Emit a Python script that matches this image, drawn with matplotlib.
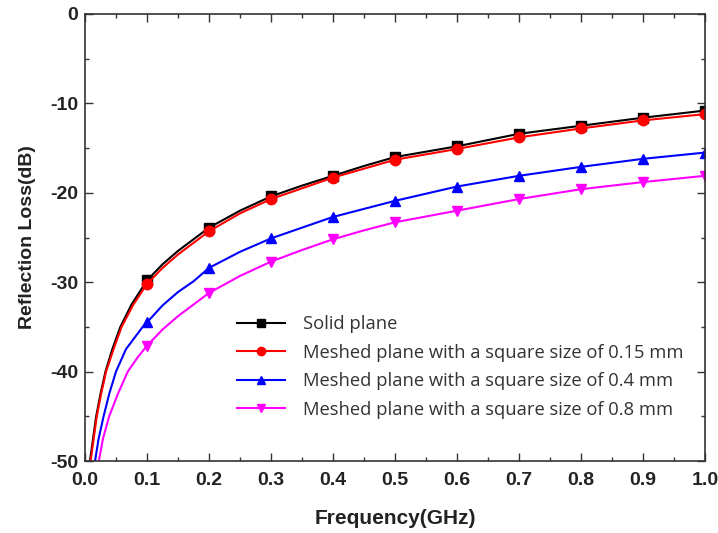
import matplotlib
matplotlib.use("Agg")
import matplotlib.pyplot as plt
from matplotlib.ticker import MultipleLocator, FormatStrFormatter
import numpy as np

plt.rcParams['axes.unicode_minus'] = False
plt.rcParams['font.family'] = ['Liberation Sans', 'DejaVu Sans']

# marker frequencies (GHz)
freq_marks = [0.1, 0.2, 0.3, 0.4, 0.5, 0.6, 0.7, 0.8, 0.9, 1.0]
solid_marks = [-29.8, -23.9, -20.4, -18.1, -16.0, -14.8, -13.4, -12.5, -11.6, -10.8]
m015_marks = [-30.2, -24.3, -20.7, -18.3, -16.3, -15.1, -13.8, -12.8, -11.9, -11.2]
m04_marks = [-34.5, -28.4, -25.1, -22.7, -20.9, -19.3, -18.1, -17.1, -16.2, -15.5]
m08_marks = [-37.1, -31.2, -27.7, -25.2, -23.3, -22.0, -20.7, -19.6, -18.8, -18.1]

# extra curve points (between markers)
solid_x_extra = [0.007, 0.013, 0.018, 0.025, 0.033, 0.044, 0.057, 0.075, 0.125, 0.15, 0.175, 0.25, 0.35, 0.45]
solid_y_extra = [-50.5, -47.5, -45.0, -42.5, -40.0, -37.5, -35.0, -32.5, -28.0, -26.5, -25.2, -22.0, -19.2, -17.0]
m015_x_extra = [0.008, 0.014, 0.019, 0.026, 0.034, 0.046, 0.059, 0.078, 0.125, 0.15, 0.175, 0.25, 0.35, 0.45]
m015_y_extra = [-50.5, -47.5, -45.0, -42.5, -40.0, -37.5, -35.0, -32.5, -28.4, -26.9, -25.6, -22.3, -19.5, -17.3]
m04_x_extra = [0.015, 0.022, 0.030, 0.039, 0.050, 0.066, 0.093, 0.125, 0.15, 0.175, 0.25, 0.35, 0.45]
m04_y_extra = [-50.5, -47.5, -45.0, -42.5, -40.0, -37.5, -35.0, -32.6, -31.1, -29.9, -26.6, -23.9, -21.8]
m08_x_extra = [0.021, 0.029, 0.039, 0.053, 0.069, 0.085, 0.125, 0.15, 0.175, 0.25, 0.35, 0.45]
m08_y_extra = [-50.5, -47.5, -45.0, -42.5, -40.0, -38.4, -35.3, -33.8, -32.5, -29.3, -26.4, -24.2]

labels = ["Solid plane",
          "Meshed plane with a square size of 0.15 mm",
          "Meshed plane with a square size of 0.4 mm",
          "Meshed plane with a square size of 0.8 mm"]
colors = ["#000000", "#ff0000", "#0000ff", "#ff00ff"]
markers = ["s", "o", "^", "v"]

series = [
    (solid_x_extra, solid_y_extra, solid_marks),
    (m015_x_extra, m015_y_extra, m015_marks),
    (m04_x_extra, m04_y_extra, m04_marks),
    (m08_x_extra, m08_y_extra, m08_marks),
]

fig = plt.figure(figsize=(7.18, 5.33), dpi=100)
ax = fig.add_axes([85/718, 72/533, 620/718, 447/533])

for (xe, ye, ym), lab, c, mk in zip(series, labels, colors, markers):
    xs = list(xe) + list(freq_marks)
    ys = list(ye) + list(ym)
    order = np.argsort(xs)
    xs = np.array(xs)[order]
    ys = np.array(ys)[order]
    mark_idx = [i for i, v in enumerate(xs) if any(abs(v - f) < 1e-9 for f in freq_marks)]
    ax.plot(xs, ys, color=c, lw=1.5, marker=mk, markersize=7.5,
            markevery=mark_idx, label=lab, clip_on=True)

ax.set_xlim(0.0, 1.0)
ax.set_ylim(-50, 0)
ax.xaxis.set_major_locator(MultipleLocator(0.1))
ax.xaxis.set_minor_locator(MultipleLocator(0.05))
ax.yaxis.set_major_locator(MultipleLocator(10))
ax.yaxis.set_minor_locator(MultipleLocator(5))
ax.xaxis.set_major_formatter(FormatStrFormatter('%.1f'))
ax.yaxis.set_major_formatter(FormatStrFormatter('%d'))
ax.tick_params(which='both', direction='in', top=True, right=True, width=1.0, color='#333333')
ax.tick_params(which='major', length=6, labelsize=14)
ax.tick_params(axis='x', which='major', pad=8)
ax.tick_params(axis='y', which='major', pad=5)
ax.tick_params(which='minor', length=3)
for lab in ax.get_xticklabels() + ax.get_yticklabels():
    lab.set_fontweight('bold')
    lab.set_color('#222222')
for sp in ax.spines.values():
    sp.set_linewidth(1.2)
    sp.set_color('#333333')

ax.set_xlabel("Frequency(GHz)", fontsize=15, fontweight='bold', labelpad=14, color='#222222')
ax.set_ylabel("Reflection Loss(dB)", fontsize=14, fontweight='bold', labelpad=10, color='#222222')

leg = ax.legend(loc='upper left', bbox_to_anchor=(0.2335, 0.342), frameon=False,
                prop={'family': ['Open Sans', 'DejaVu Sans'], 'size': 13.2},
                handlelength=2.62, handletextpad=0.98, labelspacing=0.57,
                borderaxespad=0.0, markerscale=0.8)
for t in leg.get_texts():
    t.set_color('#333333')

fig.savefig("out.png", dpi=100)
